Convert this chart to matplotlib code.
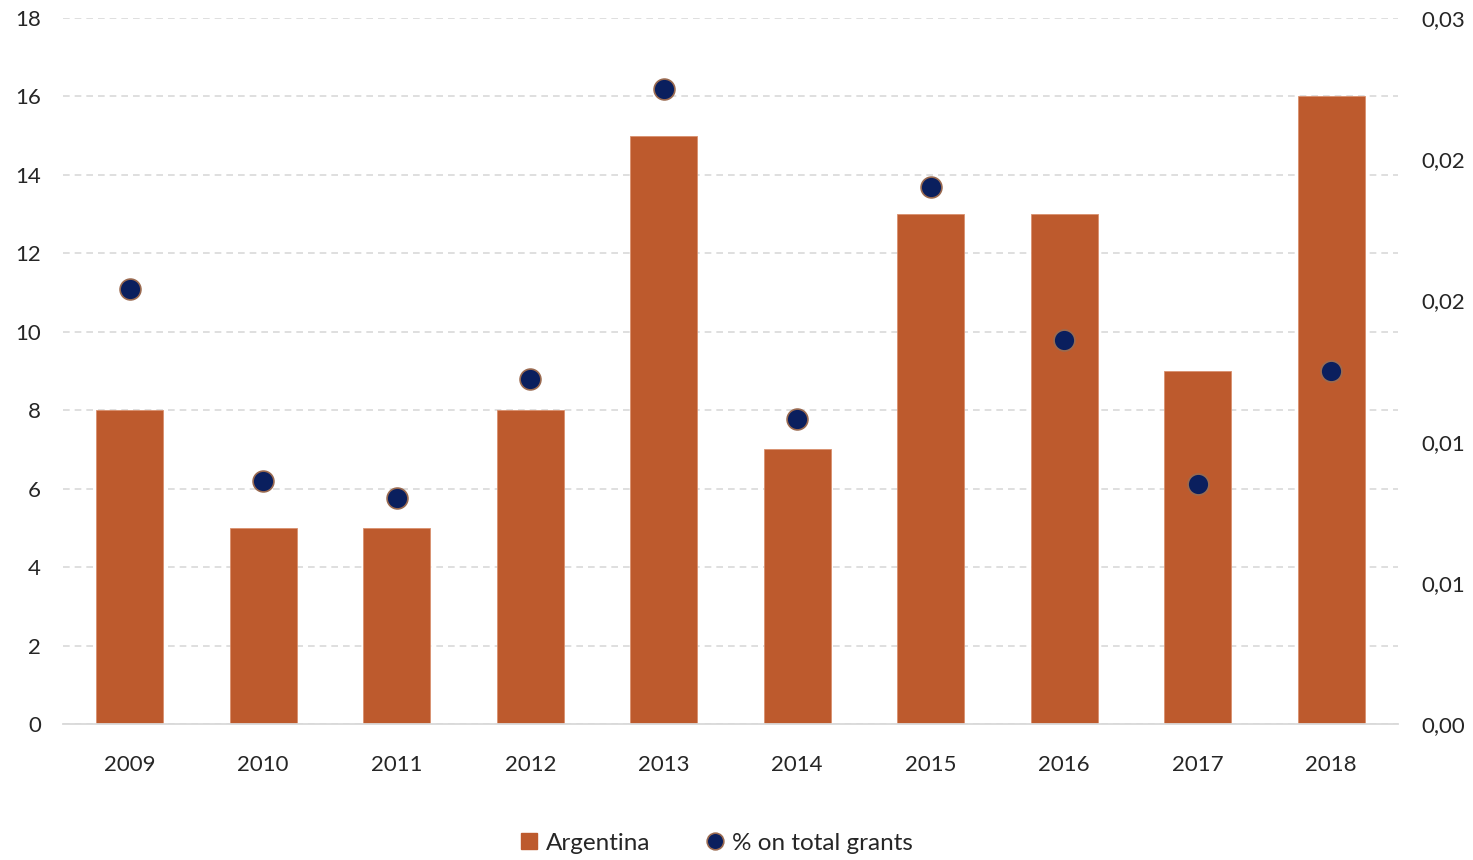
import matplotlib
matplotlib.use("Agg")
import matplotlib.pyplot as plt
from matplotlib.ticker import FuncFormatter, MultipleLocator
from matplotlib.lines import Line2D
from matplotlib.patches import Patch
from decimal import Decimal, ROUND_HALF_UP

plt.rcParams['font.family'] = ['Lato', 'DejaVu Sans']

years = ["2009", "2010", "2011", "2012", "2013", "2014", "2015", "2016", "2017", "2018"]
grants = [8, 5, 5, 8, 15, 7, 13, 13, 9, 16]
share = [0.0154, 0.0086, 0.0080, 0.0122, 0.0225, 0.0108, 0.0190, 0.0136, 0.0085, 0.0125]

bar_color = "#BD5A2D"
dot_color = "#0A1F5E"
dot_edge = "#9A6A50"
text_color = "#262626"


def comma_two_places(v, pos):
    d = Decimal(repr(round(float(v), 6))).quantize(Decimal("0.01"), rounding=ROUND_HALF_UP)
    return str(d).replace(".", ",")


fig = plt.figure(figsize=(14.73, 8.6), dpi=100)
ax = fig.add_axes([63 / 1473, 1 - 724 / 860, (1398 - 63) / 1473, (724 - 18) / 860])

x = list(range(len(years)))
ax.bar(x, grants, width=0.5, color=bar_color, edgecolor="#D9906E", linewidth=0.6, zorder=2)
ax.set_xlim(-0.5, len(years) - 0.5)
ax.set_ylim(0, 18)
ax.yaxis.set_major_locator(MultipleLocator(2))
ax.set_xticks(x)
ax.set_xticklabels(years)
ax.grid(axis="y", color="#D9D9D9", linestyle=(0, (4, 3)), linewidth=1.2, zorder=0)
for s in ["top", "right", "left"]:
    ax.spines[s].set_visible(False)
ax.spines["bottom"].set_color("#D9D9D9")
ax.spines["bottom"].set_linewidth(1.3)
ax.tick_params(axis="both", length=0, labelsize=16, colors=text_color)
ax.tick_params(axis="x", pad=22)
ax.tick_params(axis="y", pad=16)

ax2 = ax.twinx()
ax2.set_ylim(0, 0.025)
ax2.yaxis.set_major_locator(MultipleLocator(0.005))
ax2.yaxis.set_major_formatter(FuncFormatter(comma_two_places))
ax2.plot(x, share, linestyle="none", marker="o", markersize=15,
         markerfacecolor=dot_color, markeredgecolor=dot_edge, markeredgewidth=1.2, zorder=3)
for s in ax2.spines.values():
    s.set_visible(False)
ax2.tick_params(axis="y", length=0, labelsize=16, colors=text_color, pad=17)

handles = [
    Patch(facecolor=bar_color, edgecolor=bar_color, label="Argentina"),
    Line2D([], [], linestyle="none", marker="o", markersize=12,
           markerfacecolor=dot_color, markeredgecolor=dot_edge, markeredgewidth=1.2,
           label="% on total grants"),
]
fig.legend(handles=handles, loc="center", bbox_to_anchor=(717 / 1473, 1 - 843 / 860),
           ncol=2, frameon=False, fontsize=17.5, handlelength=0.65, handleheight=0.65,
           handletextpad=0.4, columnspacing=2.3, labelcolor=text_color)

fig.savefig("out.png", dpi=100)
